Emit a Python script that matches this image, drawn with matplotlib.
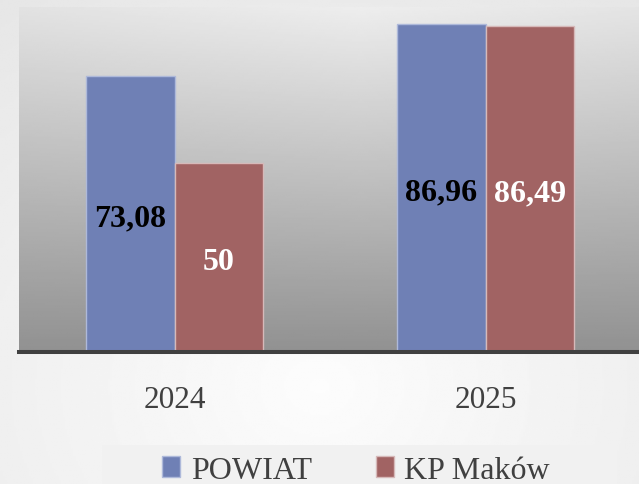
import numpy as np
import matplotlib
matplotlib.use("Agg")
import matplotlib.pyplot as plt
from matplotlib.patches import Patch, Rectangle
from matplotlib.font_manager import FontProperties

# data
years = ["2024", "2025"]
powiat = [73.08, 86.96]
kp_makow = [50, 86.49]
powiat_lbl = ["73,08", "86,96"]
kp_lbl = ["50", "86,49"]
series_names = ["POWIAT", "KP Maków"]

blue = "#6f80b5"
red = "#a16363"
serif = ["Liberation Serif", "DejaVu Serif"]

fig = plt.figure(figsize=(6.39, 4.85), dpi=100)

# background of the whole slide: light, whiter in the middle-bottom
bg = fig.add_axes([0, 0, 1, 1], zorder=-10)
yy, xx = np.mgrid[0:1:200j, 0:1:300j]
r = np.sqrt(((xx - 0.5) / 0.9) ** 2 + ((yy - 0.2) / 1.0) ** 2)
bg.imshow(0.99 - 0.09 * r, cmap="gray", vmin=0, vmax=1, aspect="auto",
          extent=[0, 1, 0, 1], origin="lower")
bg.add_patch(Rectangle((102 / 639, 0), 515 / 639, 39 / 485,
                       facecolor="#f1f1f1", edgecolor="none"))
bg.set_xlim(0, 1)
bg.set_ylim(0, 1)
bg.axis("off")

ax = fig.add_axes([19 / 639, 1 - 353 / 485, 622 / 639, 345 / 485])

# plot area gradient (light top, darker bottom)
gy, gx = np.mgrid[0:1:200j, 0:1:300j]
grad = 0.57 + 0.32 * gy + 0.04 * (1 - np.abs(gx - 0.55) * 2) * gy
ax.imshow(grad, cmap="gray", vmin=0, vmax=1, aspect="auto",
          extent=[-0.5, 1.5, 0, 91.5], origin="lower", zorder=0)

x = np.arange(len(years))
w = 0.286
b1 = ax.bar(x - w / 2, powiat, w, color=blue, edgecolor="#aeb9da",
            linewidth=1, zorder=2)
b2 = ax.bar(x + w / 2, kp_makow, w, color=red, edgecolor="#d6b9b9",
            linewidth=1, zorder=2)

for i in range(len(years)):
    ax.text(x[i] - w / 2, powiat[i] / 2 - 1, powiat_lbl[i], ha="center",
            va="center", fontsize=23, fontweight="bold", color="black",
            family=serif, zorder=3)
    ax.text(x[i] + w / 2, kp_makow[i] / 2 - 1, kp_lbl[i], ha="center",
            va="center", fontsize=23, fontweight="bold", color="white",
            family=serif, zorder=3)

ax.set_xlim(-0.5, 1.5)
ax.set_ylim(0, 91.5)
ax.set_yticks([])
ax.set_xticks(x)
ax.set_xticklabels(years, family=serif, fontsize=22.5, color="#404040")
ax.tick_params(axis="x", length=0, pad=24)
for s in ["top", "left", "right"]:
    ax.spines[s].set_visible(False)
ax.spines["bottom"].set_color("#404040")
ax.spines["bottom"].set_linewidth(2.9)
ax.spines["bottom"].set_zorder(4)

handles = [Patch(facecolor=blue, edgecolor="#aeb9da"),
           Patch(facecolor=red, edgecolor="#d6b9b9")]
leg_font = FontProperties(family=serif, size=23)
leg = fig.legend(handles, series_names, loc="upper left",
                 bbox_to_anchor=(162 / 639, 1 - 457 / 485), ncol=2,
                 frameon=False, borderpad=0, borderaxespad=0,
                 handlelength=0.56, handleheight=0.62,
                 handletextpad=0.34, columnspacing=2.0,
                 prop=leg_font)
for t in leg.get_texts():
    t.set_color("#404040")
    t.set_fontfamily(serif)

fig.savefig("out.png", dpi=100)
